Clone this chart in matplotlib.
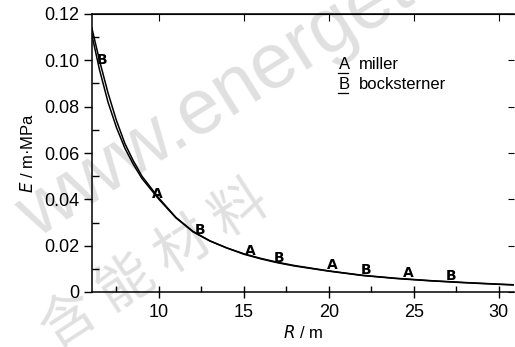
import matplotlib
matplotlib.use("Agg")
import matplotlib.pyplot as plt
from matplotlib.ticker import MultipleLocator

# energy vs. distance, two prediction models
r_vals = [6.05, 6.5, 7.0, 7.5, 8.0, 8.5, 9.0, 10.0, 11.0, 12.0, 13.0, 14.0,
          15.0, 16.0, 17.0, 18.0, 20.0, 22.0, 24.0, 26.0, 28.0, 30.0, 31.0]
e_miller = [0.111, 0.096, 0.082, 0.071, 0.062, 0.055, 0.049, 0.040, 0.032, 0.026,
            0.022, 0.019, 0.0163, 0.0143, 0.0126, 0.0112, 0.0090, 0.0071, 0.0058,
            0.0048, 0.0040, 0.0033, 0.0030]
e_bock = [0.114, 0.100, 0.086, 0.074, 0.064, 0.0565, 0.050, 0.0405, 0.0322, 0.0262,
          0.0221, 0.0190, 0.0165, 0.0145, 0.0128, 0.0114, 0.0091, 0.0072, 0.0059,
          0.0049, 0.0041, 0.0034, 0.0031]

# letter markers placed along the curves
tag_letters = ['B', 'A', 'B', 'A', 'B', 'A', 'B', 'A', 'B']
tag_r = [6.65, 9.9, 12.4, 15.35, 17.1, 20.2, 22.2, 24.7, 27.2]
tag_e = [0.1003, 0.0425, 0.0268, 0.0178, 0.0147, 0.0118, 0.0097, 0.0082, 0.0068]

legend_keys = ['A', 'B']
legend_names = ['miller', 'bocksterner']

FONT = ['Liberation Sans', 'DejaVu Sans']


def add_watermark(fig):
    fig.text(0.01, 0.27, 'www.energetic-m', fontsize=56, color='#e0e0e0',
             rotation=32, family=FONT, zorder=-1, ha='left', va='bottom')
    fig.text(0.06, -0.04, '含 能 材 料', fontsize=40, color='#e0e0e0',
             rotation=33, family=['Noto Sans CJK SC', 'DejaVu Sans'],
             weight='light', zorder=-1, ha='left', va='bottom')


def main():
    plt.rcParams['font.family'] = FONT
    fig = plt.figure(figsize=(5.15, 3.47), dpi=100)
    ax = fig.add_axes([92 / 515, 1 - 292 / 347, 422 / 515, 278 / 347])
    ax.patch.set_visible(False)

    ax.plot(r_vals, e_miller, color='black', lw=1.1)
    ax.plot(r_vals, e_bock, color='black', lw=1.1)

    for letter, r, e in zip(tag_letters, tag_r, tag_e):
        ax.text(r, e, letter, fontsize=10, fontweight='bold', ha='center',
                va='center', family='DejaVu Sans')

    # legend with underlined key letters
    for i, (key, name) in enumerate(zip(legend_keys, legend_names)):
        y = 0.82 - i * 0.072
        ax.text(0.585, y, key, transform=ax.transAxes, fontsize=12,
                ha='left', va='center')
        ax.plot([0.584, 0.606], [y - 0.031, y - 0.031], color='black', lw=0.9,
                transform=ax.transAxes, clip_on=False)
        ax.text(0.632, y, name, transform=ax.transAxes, fontsize=12,
                ha='left', va='center')

    ax.set_xlim(6.06, 30.9)
    ax.set_ylim(0, 0.12)
    ax.xaxis.set_major_locator(MultipleLocator(5))
    ax.xaxis.set_minor_locator(MultipleLocator(2.5))
    ax.yaxis.set_major_locator(MultipleLocator(0.02))
    ax.yaxis.set_minor_locator(MultipleLocator(0.01))
    ax.yaxis.set_major_formatter(lambda v, p: '0' if v == 0 else f'{v:.2f}')

    ax.tick_params(axis='x', which='major', direction='inout', length=9, width=1,
                   labelsize=13, pad=4)
    ax.tick_params(axis='x', which='minor', direction='in', length=4, width=1)
    ax.tick_params(axis='y', which='major', direction='out', length=6, width=1,
                   labelsize=13, pad=3)
    ax.tick_params(axis='y', which='minor', direction='in', length=5, width=1)

    top = ax.secondary_xaxis('top')
    top.xaxis.set_major_locator(MultipleLocator(5))
    top.tick_params(direction='in', length=5, labeltop=False)
    right = ax.secondary_yaxis('right')
    right.yaxis.set_major_locator(MultipleLocator(0.02))
    right.tick_params(direction='in', length=4, labelright=False)
    right.spines['right'].set_visible(False)

    for s in ax.spines.values():
        s.set_linewidth(1.1)
    ax.spines['right'].set_visible(False)

    ax.set_xlabel('$\\it{R}$ / m', fontsize=12, labelpad=2)
    ax.set_ylabel('$\\it{E}$ / m·MPa', fontsize=12, labelpad=6)

    add_watermark(fig)
    fig.savefig('out.png', dpi=100)


if __name__ == '__main__':
    main()
